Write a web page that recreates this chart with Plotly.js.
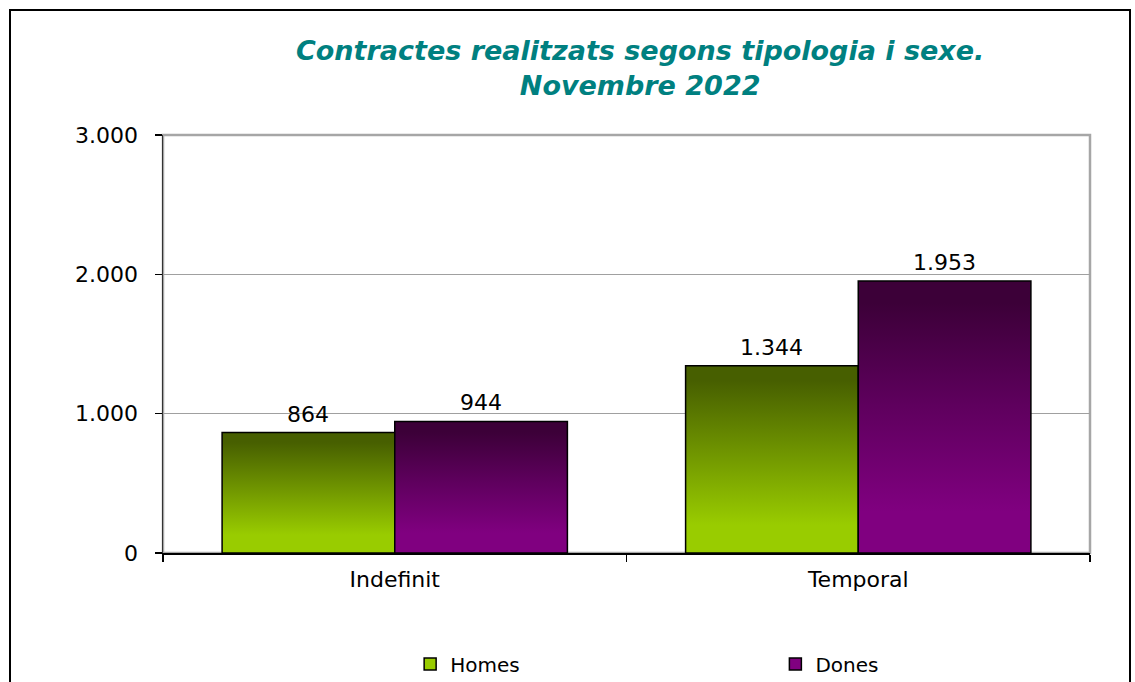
<!DOCTYPE html>
<html>
<head>
<meta charset="utf-8">
<script src="https://cdn.plot.ly/plotly-3.0.1.min.js"></script>
<style>
  html, body { margin: 0; padding: 0; background: #fff; }
  #chart { width: 1135px; height: 682px; }
</style>
</head>
<body>
<div id="chart"></div>
<script>
var categories = ['Indefinit', 'Temporal'];
var homesValues = [864, 1344];
var donesValues = [944, 1953];
var seriesNames = ['Homes', 'Dones'];
var yTicks = [0, 1000, 2000, 3000];

var fontFamily = 'DejaVu Sans, Arial, sans-serif';
var barGap = 0.255;

// 1234 -> "1.234"
function fmt(v) {
    return String(v).replace(/\B(?=(\d{3})+(?!\d))/g, '.');
}

var homes = {
    type: 'bar',
    name: seriesNames[0],
    legend: 'legend',
    x: categories,
    y: homesValues,
    marker: {color: '#99cc00', line: {color: '#000', width: 1.5}},
    hoverinfo: 'x+y'
};

var dones = {
    type: 'bar',
    name: seriesNames[1],
    legend: 'legend2',
    x: categories,
    y: donesValues,
    marker: {color: '#800080', line: {color: '#000', width: 1.5}},
    hoverinfo: 'x+y'
};

// value labels above the bars, placed on the category axis
var half = (1 - barGap) / 4;
var annotations = [];
categories.forEach(function (c, i) {
    [[homesValues, -half], [donesValues, half]].forEach(function (s) {
        annotations.push({
            xref: 'x', yref: 'y',
            x: i + s[1], y: s[0][i],
            text: fmt(s[0][i]),
            showarrow: false,
            yanchor: 'bottom',
            yshift: 4,
            font: {family: fontFamily, size: 22, color: '#000'}
        });
    });
});

var legendCommon = {
    orientation: 'h',
    xanchor: 'left',
    y: -0.219,
    yanchor: 'top',
    itemwidth: 30,
    font: {family: fontFamily, size: 20, color: '#000'},
    bgcolor: 'rgba(0,0,0,0)'
};

var layout = {
    width: 1135,
    height: 682,
    margin: {l: 163, r: 45, t: 135, b: 129, autoexpand: false},
    paper_bgcolor: '#fff',
    plot_bgcolor: '#fff',
    separators: ',.',
    font: {family: fontFamily, size: 22, color: '#000'},
    barmode: 'group',
    bargap: barGap,
    bargroupgap: 0,
    title: {
        text: 'Contractes realitzats segons tipologia i sexe.<br>Novembre 2022',
        font: {family: fontFamily, size: 27, color: '#008080', weight: 'bold', style: 'italic'},
        xref: 'container',
        x: 0.564,
        xanchor: 'center',
        yref: 'container',
        y: 1 - 60 / 682,
        yanchor: 'top'
    },
    xaxis: {
        type: 'category',
        range: [-0.5, 1.5],
        showline: true,
        linecolor: '#000',
        linewidth: 2,
        ticks: 'outside',
        tickson: 'boundaries',
        ticklen: 7,
        tickcolor: '#000',
        tickwidth: 1.5,
        ticklabelstandoff: 6,
        showgrid: false,
        tickfont: {family: fontFamily, size: 22, color: '#000'}
    },
    yaxis: {
        range: [0, 3000],
        tickvals: yTicks,
        separatethousands: true,
        tickformat: ',d',
        showline: true,
        linecolor: '#333',
        linewidth: 1.5,
        ticks: 'outside',
        ticklen: 7,
        tickcolor: '#000',
        tickwidth: 1.5,
        ticklabelstandoff: 12,
        showgrid: true,
        gridcolor: '#a0a0a0',
        gridwidth: 1,
        zeroline: false,
        tickfont: {family: fontFamily, size: 22, color: '#000'}
    },
    showlegend: true,
    legend: Object.assign({}, legendCommon, {x: 0.2666}),
    legend2: Object.assign({}, legendCommon, {x: 0.6606}),
    annotations: annotations,
    shapes: [
        // grey frame around the plot area
        {type: 'rect', xref: 'paper', yref: 'paper', x0: 0, x1: 1, y0: 0, y1: 1,
         line: {color: '#a6a6a6', width: 2.5}, layer: 'below'},
        // black outer border of the chart
        {type: 'rect', xref: 'paper', yref: 'paper',
         x0: (10 - 163) / 927, x1: (1130 - 163) / 927,
         y0: (553 - 700) / 418, y1: (553 - 10) / 418,
         line: {color: '#000', width: 2}, layer: 'above'}
    ]
};

var configuration = {displayModeBar: false, staticPlot: true};

var gd = document.getElementById('chart');

function addGradient(defs, id, top, mid, bottom) {
    var ns = 'http://www.w3.org/2000/svg';
    var grad = document.createElementNS(ns, 'linearGradient');
    grad.setAttribute('id', id);
    grad.setAttribute('x1', '0'); grad.setAttribute('y1', '0');
    grad.setAttribute('x2', '0'); grad.setAttribute('y2', '1');
    var stops = [[0, top], [0.08, top], [0.45, mid], [0.85, bottom], [1, bottom]];
    stops.forEach(function (s) {
        var stop = document.createElementNS(ns, 'stop');
        stop.setAttribute('offset', s[0]);
        stop.setAttribute('stop-color', s[1]);
        grad.appendChild(stop);
    });
    defs.appendChild(grad);
}

Plotly.newPlot(gd, [homes, dones], layout, configuration).then(function () {
    var defs = gd.querySelector('.main-svg defs');
    addGradient(defs, 'gradHomes', '#475f00', '#6e9300', '#99cc00');
    addGradient(defs, 'gradDones', '#3c0038', '#5e005d', '#800080');
    var ids = ['gradHomes', 'gradDones'];
    var traces = gd.querySelectorAll('.barlayer .trace');
    traces.forEach(function (tr, i) {
        tr.querySelectorAll('.point path').forEach(function (p) {
            p.style.fill = 'url(#' + ids[i] + ')';
        });
    });
});
</script>
</body>
</html>
